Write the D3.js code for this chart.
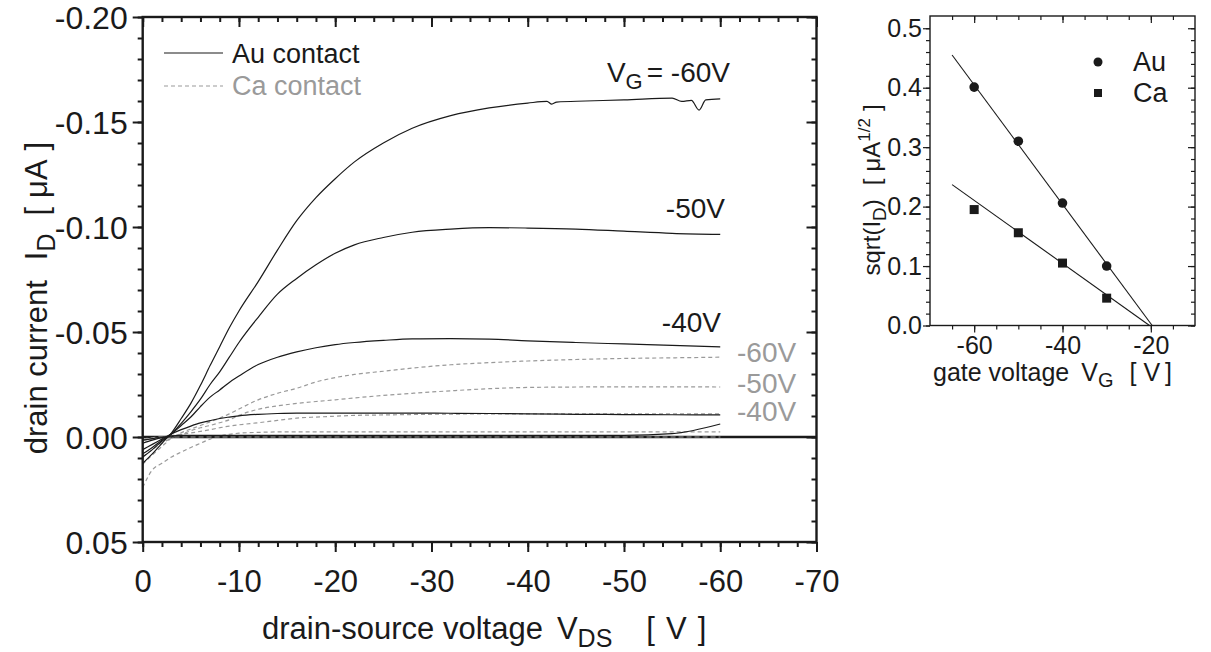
<!DOCTYPE html>
<html><head><meta charset="utf-8">
<script src="https://cdn.jsdelivr.net/npm/d3@7"></script>
<style>
body{margin:0;background:#fff}
svg{display:block}
text{font-family:"Liberation Sans",Arial,Helvetica,sans-serif}
</style>
</head><body>
<svg id="c" width="1211" height="652"></svg>
<script>
// ---------- data ----------
const vGrid = [0,-1,-2,-3,-4,-5,-6,-7,-8,-9,-10,-12,-14,-16,-18,-20,-22,-25,-28,-32,-36,-40,-45,-50,-55,-60];
const vGrid60 = [0,-1,-2,-3,-4,-5,-6,-7,-8,-9,-10,-12,-14,-16,-18,-20,-22,-25,-28,-32,-36,-40,-42,-42.5,-43,-46,-50,-55,-56,-57,-57.8,-58.5,-60];
const au60 = [0.0125,0.008,0.003,-0.002,-0.0088,-0.016,-0.0246,-0.034,-0.043,-0.052,-0.060,-0.074,-0.089,-0.103,-0.114,-0.123,-0.131,-0.140,-0.147,-0.153,-0.1567,-0.159,-0.1598,-0.1585,-0.1595,-0.160,-0.1605,-0.1614,-0.1598,-0.1603,-0.1557,-0.1605,-0.161];
const au50 = [0.0095,0.006,0.002,-0.0015,-0.0065,-0.012,-0.018,-0.025,-0.031,-0.038,-0.045,-0.057,-0.068,-0.0755,-0.082,-0.0875,-0.0915,-0.095,-0.0975,-0.099,-0.0997,-0.0995,-0.099,-0.098,-0.097,-0.0965];
const au40 = [0.008,0.005,0.0015,-0.0015,-0.0055,-0.0095,-0.0145,-0.019,-0.0224,-0.026,-0.029,-0.0345,-0.038,-0.0405,-0.0425,-0.044,-0.045,-0.046,-0.0467,-0.0468,-0.0466,-0.0458,-0.045,-0.0443,-0.0436,-0.0429];
const au30 = [0.006,0.0035,0.001,-0.0015,-0.0035,-0.0052,-0.0067,-0.0078,-0.0088,-0.0095,-0.0101,-0.0108,-0.0112,-0.0114,-0.0114,-0.0114,-0.0114,-0.0114,-0.0114,-0.0113,-0.0112,-0.011,-0.0108,-0.0107,-0.0106,-0.0105];
const au20 = [0.003,0.0015,0.0003,-0.0005,-0.0008,-0.0008,-0.0008,-0.0008,-0.0008,-0.0008,-0.0008,-0.0008,-0.0008,-0.0008,-0.0008,-0.0008,-0.0008,-0.0008,-0.0008,-0.0008,-0.0008,-0.0008,-0.0008,-0.0008,-0.0016,-0.0062];
const au10 = [0.0015,0.0008,0,0,0,0,0,0,0,0,0,0,0,0,0,0,0,0,0,0,0,0,0,0,0,0];
const ca60 = [0.013,0.0085,0.0045,0.0005,-0.002,-0.0038,-0.0055,-0.0072,-0.009,-0.011,-0.0133,-0.0177,-0.0208,-0.0232,-0.0262,-0.0283,-0.0298,-0.0313,-0.0328,-0.0344,-0.0354,-0.0362,-0.0369,-0.0374,-0.0377,-0.038];
const ca50 = [0.0095,0.006,0.003,0.0005,-0.0012,-0.003,-0.0044,-0.0055,-0.0068,-0.0082,-0.0103,-0.0132,-0.0148,-0.016,-0.0169,-0.0177,-0.0186,-0.0198,-0.0208,-0.022,-0.023,-0.0236,-0.0238,-0.0239,-0.0239,-0.0238];
const ca40 = [0.0015,0.0008,0,-0.0007,-0.0013,-0.0019,-0.0027,-0.0035,-0.0044,-0.0052,-0.0058,-0.0068,-0.0079,-0.009,-0.0095,-0.0099,-0.0103,-0.0105,-0.0107,-0.0109,-0.011,-0.011,-0.011,-0.011,-0.011,-0.011];
const ca30 = [0.024,0.0157,0.0125,0.0095,0.0072,0.005,0.003,0.001,-0.0005,-0.0013,-0.0018,-0.0022,-0.0024,-0.0024,-0.0024,-0.0024,-0.0024,-0.0024,-0.0024,-0.0024,-0.0024,-0.0024,-0.0024,-0.0024,-0.0024,-0.0024];
const ca20 = [0.0012,0.0006,0,0,0,0,0,0,0,0,0,0,0,0,0,0,0,0,0,0,0,0,0,0,0,0];

const xTicks = [0,-10,-20,-30,-40,-50,-60,-70];
const xTickLabels = ["0","-10","-20","-30","-40","-50","-60","-70"];
const yTicks = [-0.20,-0.15,-0.10,-0.05,0.00,0.05];
const yTickLabels = ["-0.20","-0.15","-0.10","-0.05","0.00","0.05"];

// inset data
const gateV = [-60,-50,-40,-30];
const sqrtAu = [0.401,0.310,0.206,0.100];
const sqrtCa = [0.195,0.156,0.105,0.046];
const fitAuV = [-65,-19.7], fitAuS = [0.455,0];
const fitCaV = [-65,-20.3], fitCaS = [0.237,0];
const insXTicks = [-60,-40,-20];
const insXTickLabels = ["-60","-40","-20"];
const insYTicks = [0,0.1,0.2,0.3,0.4,0.5];
const insYTickLabels = ["0.0","0.1","0.2","0.3","0.4","0.5"];

// ---------- drawing ----------
const svg = d3.select("#c");
const INK = "#1a1a1a", GREY = "#9a9a9a";

const M = {l:142.7, r:816.5, t:17, b:542};
const x = d3.scaleLinear().domain([0,-70]).range([M.l,M.r]);
const y = d3.scaleLinear().domain([0.05,-0.20]).range([M.b,M.t]);

function styleAxis(g, sw, fs){
  g.select(".domain").remove();
  g.selectAll(".tick line").attr("stroke",INK).attr("stroke-width",sw);
  g.selectAll(".tick text").attr("fill",INK).attr("font-size",fs).attr("font-family",'"Liberation Sans",Arial,sans-serif');
}

const xMinor = d3.range(0,-70.01,-2);
const yMinor = d3.range(-20,5.01,1).map(d=>d/100);

// bottom
svg.append("g").attr("transform",`translate(0,${M.b})`)
  .call(d3.axisBottom(x).tickValues(xMinor).tickSize(5).tickFormat(""))
  .call(g=>styleAxis(g,2,31));
svg.append("g").attr("transform",`translate(0,${M.b})`)
  .call(d3.axisBottom(x).tickValues(xTicks).tickSize(10).tickPadding(18).tickFormat((d,i)=>xTickLabels[i]))
  .call(g=>styleAxis(g,2,31));
// top
svg.append("g").attr("transform",`translate(0,${M.t})`)
  .call(d3.axisTop(x).tickValues(xMinor).tickSize(-5).tickFormat(""))
  .call(g=>styleAxis(g,2,31));
svg.append("g").attr("transform",`translate(0,${M.t})`)
  .call(d3.axisTop(x).tickValues(xTicks).tickSize(-10).tickFormat(""))
  .call(g=>styleAxis(g,2,31));
// left
svg.append("g").attr("transform",`translate(${M.l},0)`)
  .call(d3.axisLeft(y).tickValues(yMinor).tickSize(5).tickFormat(""))
  .call(g=>styleAxis(g,2,32));
svg.append("g").attr("transform",`translate(${M.l},0)`)
  .call(d3.axisLeft(y).tickValues(yTicks).tickSize(10).tickPadding(5).tickFormat((d,i)=>yTickLabels[i]))
  .call(g=>{styleAxis(g,2,32); g.selectAll(".tick text").attr("dy","0.37em");});
// right
svg.append("g").attr("transform",`translate(${M.r},0)`)
  .call(d3.axisRight(y).tickValues(yMinor).tickSize(-5).tickFormat(""))
  .call(g=>styleAxis(g,2,32));
svg.append("g").attr("transform",`translate(${M.r},0)`)
  .call(d3.axisRight(y).tickValues(yTicks).tickSize(-10).tickFormat(""))
  .call(g=>styleAxis(g,2,32));

// zero reference line
svg.append("line").attr("x1",x(0)).attr("x2",x(-70)).attr("y1",y(0)).attr("y2",y(0))
  .attr("stroke",INK).attr("stroke-width",2.4);

const line = d3.line().x(d=>x(d[0])).y(d=>y(d[1])).curve(d3.curveMonotoneX);
const zip = (vs,is)=>vs.map((v,k)=>[v,is[k]]);

// Ca (dashed grey)
[ca20].forEach(s=>{
  svg.append("path").attr("d",line(zip(vGrid,s))).attr("fill","none")
    .attr("stroke",GREY).attr("stroke-width",2.2).attr("stroke-dasharray","5,3");
});
[ca60,ca50,ca40,ca30].forEach(s=>{
  svg.append("path").attr("d",line(zip(vGrid,s))).attr("fill","none")
    .attr("stroke",GREY).attr("stroke-width",1.2).attr("stroke-dasharray","4,3");
});
// Au (solid black)
[au50,au40,au30,au20,au10].forEach(s=>{
  svg.append("path").attr("d",line(zip(vGrid,s))).attr("fill","none")
    .attr("stroke",INK).attr("stroke-width",1.2);
});
svg.append("path").attr("d",line(zip(vGrid60,au60))).attr("fill","none")
  .attr("stroke",INK).attr("stroke-width",1.2);

// frame
svg.append("rect").attr("x",M.l).attr("y",M.t).attr("width",M.r-M.l).attr("height",M.b-M.t)
  .attr("fill","none").attr("stroke",INK).attr("stroke-width",2.4);

// legend
svg.append("line").attr("x1",164).attr("x2",223).attr("y1",53).attr("y2",53).attr("stroke",INK).attr("stroke-width",1.2);
svg.append("text").attr("x",232).attr("y",63).attr("font-size",27).attr("fill",INK).text("Au contact");
svg.append("line").attr("x1",164).attr("x2",223).attr("y1",86).attr("y2",86).attr("stroke",GREY).attr("stroke-width",1.2).attr("stroke-dasharray","4,3");
svg.append("text").attr("x",232).attr("y",95).attr("font-size",27).attr("fill",GREY).text("Ca contact");

// curve labels
const vg = svg.append("text").attr("x",730).attr("y",82).attr("font-size",28).attr("fill",INK).attr("text-anchor","end");
vg.append("tspan").text("V");
vg.append("tspan").attr("font-size",22).attr("dy",7).text("G");
vg.append("tspan").attr("dy",-7).attr("dx",4).text("= -60V");
svg.append("text").attr("x",725).attr("y",218).attr("font-size",28).attr("fill",INK).attr("text-anchor","end").text("-50V");
svg.append("text").attr("x",721).attr("y",332).attr("font-size",28).attr("fill",INK).attr("text-anchor","end").text("-40V");
svg.append("text").attr("x",737).attr("y",362).attr("font-size",28).attr("fill",GREY).text("-60V");
svg.append("text").attr("x",737).attr("y",393).attr("font-size",28).attr("fill",GREY).text("-50V");
svg.append("text").attr("x",737).attr("y",421).attr("font-size",28).attr("fill",GREY).text("-40V");

// axis titles
const xt = svg.append("text").attr("x",262).attr("y",639).attr("font-size",31).attr("fill",INK);
xt.append("tspan").text("drain-source voltage");
xt.append("tspan").attr("dx",14).text("V");
xt.append("tspan").attr("font-size",25).attr("dy",8).text("DS");
xt.append("tspan").attr("dy",-8).attr("dx",34).text("[");
xt.append("tspan").attr("dx",11).text("V");
xt.append("tspan").attr("dx",11).text("]");

const yt = svg.append("text").attr("transform","translate(47,298) rotate(-90)").attr("font-size",31).attr("fill",INK).attr("text-anchor","middle");
yt.append("tspan").text("drain current");
yt.append("tspan").attr("dx",20).text("I");
yt.append("tspan").attr("font-size",25).attr("dy",8).text("D");
yt.append("tspan").attr("dy",-8).attr("dx",18).text("[");
yt.append("tspan").attr("dx",9).text("\u03BCA");
yt.append("tspan").attr("dx",9).text("]");

// ---------- inset ----------
const I = {l:930, r:1195, t:16, b:325.5};
const xi = d3.scaleLinear().domain([-70,-10]).range([I.l,I.r]);
const yi = d3.scaleLinear().domain([0,0.5]).range([I.b,28.25]);
const xiMinor = d3.range(-65,-10,5);
const yiMinor = d3.range(0,26,1).map(d=>d/50);

svg.append("g").attr("transform",`translate(0,${I.b})`)
  .call(d3.axisBottom(xi).tickValues(xiMinor).tickSize(4).tickFormat(""))
  .call(g=>styleAxis(g,1.2,25));
svg.append("g").attr("transform",`translate(0,${I.b})`)
  .call(d3.axisBottom(xi).tickValues(insXTicks).tickSize(7).tickPadding(4).tickFormat((d,i)=>insXTickLabels[i]))
  .call(g=>styleAxis(g,1.2,25));
svg.append("g").attr("transform",`translate(0,${I.t})`)
  .call(d3.axisTop(xi).tickValues(xiMinor).tickSize(-4).tickFormat(""))
  .call(g=>styleAxis(g,1.2,25));
svg.append("g").attr("transform",`translate(0,${I.t})`)
  .call(d3.axisTop(xi).tickValues(insXTicks).tickSize(-7).tickFormat(""))
  .call(g=>styleAxis(g,1.2,25));
svg.append("g").attr("transform",`translate(${I.l},0)`)
  .call(d3.axisLeft(yi).tickValues(yiMinor).tickSize(4).tickFormat(""))
  .call(g=>styleAxis(g,1.2,25));
svg.append("g").attr("transform",`translate(${I.l},0)`)
  .call(d3.axisLeft(yi).tickValues(insYTicks).tickSize(7).tickPadding(1).tickFormat((d,i)=>insYTickLabels[i]))
  .call(g=>styleAxis(g,1.2,25));
svg.append("g").attr("transform",`translate(${I.r},0)`)
  .call(d3.axisRight(yi).tickValues(yiMinor).tickSize(-4).tickFormat(""))
  .call(g=>styleAxis(g,1.2,25));
svg.append("g").attr("transform",`translate(${I.r},0)`)
  .call(d3.axisRight(yi).tickValues(insYTicks).tickSize(-7).tickFormat(""))
  .call(g=>styleAxis(g,1.2,25));

svg.append("rect").attr("x",I.l).attr("y",I.t).attr("width",I.r-I.l).attr("height",I.b-I.t)
  .attr("fill","none").attr("stroke",INK).attr("stroke-width",1.4);

const lineI = d3.line().x(d=>xi(d[0])).y(d=>yi(d[1]));
svg.append("path").attr("d",lineI(zip(fitAuV,fitAuS))).attr("stroke",INK).attr("stroke-width",1.1).attr("fill","none");
svg.append("path").attr("d",lineI(zip(fitCaV,fitCaS))).attr("stroke",INK).attr("stroke-width",1.1).attr("fill","none");

svg.append("g").selectAll("circle").data(zip(gateV,sqrtAu)).join("circle")
  .attr("cx",d=>xi(d[0])).attr("cy",d=>yi(d[1])).attr("r",4.8).attr("fill",INK);
svg.append("g").selectAll("rect").data(zip(gateV,sqrtCa)).join("rect")
  .attr("x",d=>xi(d[0])-4.5).attr("y",d=>yi(d[1])-4.5).attr("width",9).attr("height",9).attr("fill",INK);

// inset legend
svg.append("circle").attr("cx",1098).attr("cy",62).attr("r",4.5).attr("fill",INK);
svg.append("text").attr("x",1133).attr("y",71).attr("font-size",27).attr("fill",INK).text("Au");
svg.append("rect").attr("x",1094).attr("y",89).attr("width",8).attr("height",8).attr("fill",INK);
svg.append("text").attr("x",1133).attr("y",102).attr("font-size",27).attr("fill",INK).text("Ca");

// inset titles
const gt = svg.append("text").attr("x",933).attr("y",381).attr("font-size",25).attr("fill",INK);
gt.append("tspan").text("gate voltage");
gt.append("tspan").attr("dx",12).text("V");
gt.append("tspan").attr("font-size",20).attr("dy",6).text("G");
gt.append("tspan").attr("dy",-6).attr("dx",16).text("[");
gt.append("tspan").attr("dx",7).text("V");
gt.append("tspan").attr("dx",5).text("]");

const st = svg.append("text").attr("transform","translate(880,190) rotate(-90)").attr("font-size",24).attr("fill",INK).attr("text-anchor","middle");
st.append("tspan").text("sqrt(I");
st.append("tspan").attr("font-size",19).attr("dy",6).text("D");
st.append("tspan").attr("dy",-6).text(")");
st.append("tspan").attr("dx",14).text("[");
st.append("tspan").attr("dx",7).text("\u03BCA");
st.append("tspan").attr("font-size",17).attr("dy",-10).text("1/2");
st.append("tspan").attr("dy",10).attr("dx",7).text("]");
</script>
</body></html>
